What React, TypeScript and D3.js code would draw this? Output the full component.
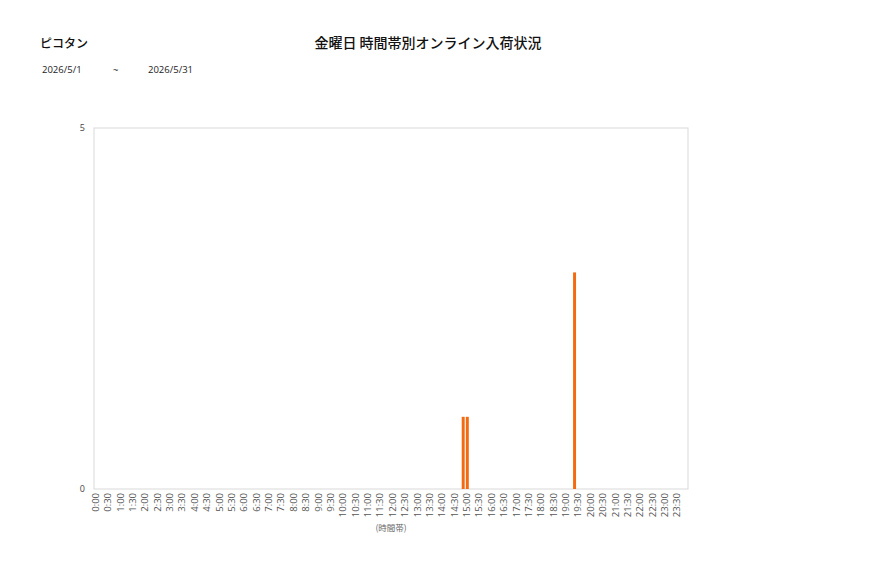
import React from 'react';
import * as d3 from 'd3';

// 10-minute bins across the day, labels every 30 minutes
const binStarts: string[] = d3.range(0, 24 * 60, 10).map(m => `${Math.floor(m / 60)}:${String(m % 60).padStart(2, '0')}`);
const tickLabels: string[] = d3.range(0, 24 * 60, 30).map(m => `${Math.floor(m / 60)}:${String(m % 60).padStart(2, '0')}`);

const arrivalTimes = ['14:50', '15:00', '19:20'];
const arrivalCounts = [1, 1, 3];

const yTicks = [0, 5];

const storeName = 'ピコタン';
const chartTitle = '金曜日 時間帯別オンライン入荷状況';
const dateFrom = '2026/5/1';
const dateTo = '2026/5/31';

const W = 877;
const H = 578;
const margin = { top: 128, right: 189, bottom: 89, left: 94 };

const App: React.FC = () => {
  const innerW = W - margin.left - margin.right;
  const innerH = H - margin.top - margin.bottom;

  const x = d3.scaleBand<string>()
    .domain(binStarts)
    .range([margin.left, margin.left + innerW])
    .paddingInner(0.28)
    .paddingOuter(0.14);

  const y = d3.scaleLinear()
    .domain([0, 5])
    .range([margin.top + innerH, margin.top]);

  const step = x.step();
  const startOf = (label: string) => margin.left + binStarts.indexOf(label) * step;

  const jp = '"Noto Sans CJK JP", "Noto Sans", sans-serif';
  const small = '"Open Sans", "DejaVu Sans", sans-serif';

  return (
    <div style={{ position: 'absolute', left: 0, top: 0 }}>
      <svg width={W} height={H} viewBox={`0 0 ${W} ${H}`} style={{ display: 'block', background: '#fff' }}>
        <text x={40} y={48} fontFamily={jp} fontSize={12} fontWeight={500} fill="#111">{storeName}</text>
        <text x={428} y={48} textAnchor="middle" fontFamily={jp} fontSize={14} fontWeight={500} fill="#111">{chartTitle}</text>
        <text x={42} y={73} fontFamily={small} fontSize={9.5} fill="#222">{dateFrom}</text>
        <text x={113} y={73} fontFamily={small} fontSize={9.5} fill="#222">~</text>
        <text x={148} y={73} fontFamily={small} fontSize={9.5} fill="#222">{dateTo}</text>

        <rect x={margin.left} y={margin.top} width={innerW} height={innerH}
          fill="#fff" stroke="#d9d9d9" strokeWidth={1} />

        {yTicks.map(t => (
          <text key={t} x={margin.left - 9} y={y(t)} dy="0.35em" textAnchor="end"
            fontFamily={small} fontSize={9} fill="#444">{t}</text>
        ))}

        {arrivalTimes.map((t, i) => (
          <rect key={t} x={x(t)} y={y(arrivalCounts[i])} width={x.bandwidth()}
            height={y(0) - y(arrivalCounts[i])} fill="#f26b12" />
        ))}

        {tickLabels.map(label => {
          const px = startOf(label) + 1.5;
          return (
            <text key={label} transform={`translate(${px},${y(0) + 4}) rotate(-90)`}
              textAnchor="end" dy="0.35em" fontFamily={small} fontSize={9.5} fill="#555">{label}</text>
          );
        })}

        <text x={margin.left + innerW / 2} y={531} textAnchor="middle"
          fontFamily={jp} fontSize={8.5} fill="#666">(時間帯)</text>
      </svg>
    </div>
  );
};

export default App;
